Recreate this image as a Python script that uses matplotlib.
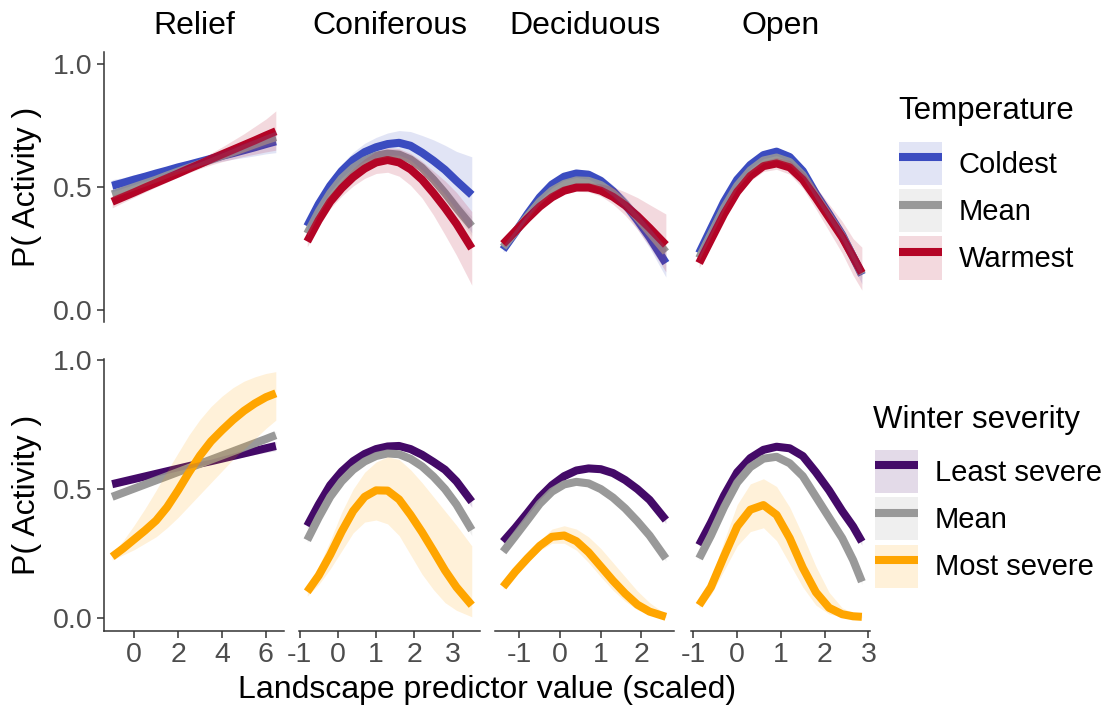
import matplotlib.pyplot as plt
import matplotlib as mpl
from matplotlib.lines import Line2D
from matplotlib.patches import Patch

mpl.rcParams['font.family'] = ['Liberation Sans', 'DejaVu Sans']

W, H = 1112, 711

panels = ["Relief", "Coniferous", "Deciduous", "Open"]

# x values of the prediction grid (scaled predictor)
x_vals = {
    "Relief": [-1.0, -0.5, 0, 0.5, 1, 1.5, 2, 2.5, 3, 3.5, 4, 4.5, 5, 5.5, 6, 6.45],
    "Coniferous": [-0.8, -0.5, -0.2, 0.1, 0.4, 0.7, 1.0, 1.3, 1.6, 1.9, 2.2, 2.5, 2.8, 3.1, 3.5],
    "Deciduous": [-1.4, -1.1, -0.8, -0.5, -0.2, 0.1, 0.4, 0.7, 1.0, 1.3, 1.6, 1.9, 2.2, 2.6],
    "Open": [-0.87, -0.6, -0.3, 0.0, 0.3, 0.6, 0.9, 1.2, 1.5, 1.8, 2.1, 2.4, 2.65, 2.85],
}
x_ticks = {
    "Relief": [0, 2, 4, 6],
    "Coniferous": [-1, 0, 1, 2, 3],
    "Deciduous": [-1, 0, 1, 2],
    "Open": [-1, 0, 1, 2, 3],
}

# ---- Temperature ----
coldest_fit = {
    "Relief": [0.505, 0.517, 0.53, 0.542, 0.555, 0.567, 0.58, 0.591, 0.603, 0.615, 0.627, 0.638, 0.65, 0.662, 0.675, 0.686],
    "Coniferous": [0.34, 0.43, 0.505, 0.565, 0.61, 0.642, 0.662, 0.675, 0.68, 0.668, 0.64, 0.607, 0.57, 0.525, 0.468],
    "Deciduous": [0.245, 0.315, 0.39, 0.458, 0.51, 0.542, 0.555, 0.55, 0.525, 0.483, 0.43, 0.365, 0.295, 0.19],
    "Open": [0.23, 0.33, 0.44, 0.53, 0.59, 0.63, 0.644, 0.622, 0.565, 0.472, 0.39, 0.305, 0.215, 0.142],
}
coldest_lo = {
    "Relief": [0.48, 0.496, 0.51, 0.525, 0.54, 0.553, 0.565, 0.577, 0.588, 0.597, 0.605, 0.613, 0.62, 0.627, 0.635, 0.64],
    "Coniferous": [0.32, 0.408, 0.48, 0.537, 0.578, 0.606, 0.622, 0.63, 0.63, 0.61, 0.57, 0.522, 0.47, 0.405, 0.313],
    "Deciduous": [0.233, 0.303, 0.378, 0.446, 0.497, 0.528, 0.539, 0.532, 0.504, 0.458, 0.4, 0.329, 0.252, 0.133],
    "Open": [0.215, 0.315, 0.425, 0.515, 0.575, 0.615, 0.628, 0.604, 0.545, 0.45, 0.365, 0.275, 0.18, 0.105],
}
coldest_hi = {
    "Relief": [0.53, 0.538, 0.55, 0.559, 0.57, 0.581, 0.595, 0.605, 0.618, 0.633, 0.648, 0.663, 0.68, 0.696, 0.712, 0.728],
    "Coniferous": [0.36, 0.452, 0.53, 0.593, 0.642, 0.678, 0.702, 0.72, 0.73, 0.726, 0.71, 0.692, 0.67, 0.645, 0.623],
    "Deciduous": [0.257, 0.327, 0.402, 0.47, 0.523, 0.556, 0.571, 0.568, 0.546, 0.508, 0.46, 0.401, 0.338, 0.247],
    "Open": [0.245, 0.345, 0.455, 0.545, 0.605, 0.645, 0.66, 0.64, 0.585, 0.494, 0.415, 0.335, 0.25, 0.18],
}
tmean_fit = {
    "Relief": [0.47, 0.485, 0.50, 0.515, 0.53, 0.547, 0.563, 0.579, 0.595, 0.611, 0.627, 0.642, 0.658, 0.674, 0.69, 0.703],
    "Coniferous": [0.31, 0.4, 0.475, 0.535, 0.578, 0.608, 0.628, 0.636, 0.632, 0.612, 0.578, 0.53, 0.475, 0.415, 0.34],
    "Deciduous": [0.255, 0.318, 0.38, 0.44, 0.485, 0.513, 0.527, 0.525, 0.508, 0.475, 0.43, 0.375, 0.315, 0.235],
    "Open": [0.21, 0.307, 0.415, 0.505, 0.568, 0.608, 0.62, 0.602, 0.548, 0.463, 0.382, 0.3, 0.215, 0.145],
}
tmean_lo = {
    "Relief": [0.455, 0.472, 0.488, 0.504, 0.52, 0.538, 0.555, 0.571, 0.587, 0.601, 0.615, 0.627, 0.64, 0.654, 0.667, 0.678],
    "Coniferous": [0.298, 0.389, 0.464, 0.524, 0.567, 0.597, 0.616, 0.623, 0.617, 0.595, 0.558, 0.508, 0.45, 0.385, 0.30],
    "Deciduous": [0.245, 0.308, 0.37, 0.43, 0.475, 0.503, 0.517, 0.515, 0.497, 0.463, 0.417, 0.36, 0.298, 0.212],
    "Open": [0.2, 0.297, 0.405, 0.495, 0.558, 0.598, 0.61, 0.591, 0.536, 0.45, 0.368, 0.285, 0.198, 0.127],
}
tmean_hi = {
    "Relief": [0.485, 0.498, 0.512, 0.526, 0.54, 0.556, 0.571, 0.587, 0.603, 0.621, 0.639, 0.657, 0.676, 0.694, 0.713, 0.728],
    "Coniferous": [0.322, 0.411, 0.486, 0.546, 0.589, 0.619, 0.64, 0.649, 0.647, 0.629, 0.598, 0.552, 0.5, 0.445, 0.38],
    "Deciduous": [0.265, 0.328, 0.39, 0.45, 0.495, 0.523, 0.537, 0.535, 0.519, 0.487, 0.443, 0.39, 0.332, 0.258],
    "Open": [0.22, 0.317, 0.425, 0.515, 0.578, 0.618, 0.63, 0.613, 0.56, 0.476, 0.396, 0.315, 0.232, 0.163],
}
warmest_fit = {
    "Relief": [0.44, 0.459, 0.478, 0.498, 0.517, 0.536, 0.555, 0.575, 0.594, 0.614, 0.633, 0.652, 0.671, 0.69, 0.71, 0.727],
    "Coniferous": [0.278, 0.365, 0.44, 0.495, 0.54, 0.575, 0.6, 0.61, 0.6, 0.572, 0.53, 0.475, 0.415, 0.35, 0.25],
    "Deciduous": [0.268, 0.32, 0.372, 0.42, 0.458, 0.485, 0.498, 0.498, 0.485, 0.46, 0.425, 0.382, 0.333, 0.264],
    "Open": [0.19, 0.285, 0.39, 0.48, 0.545, 0.585, 0.596, 0.58, 0.53, 0.455, 0.375, 0.295, 0.215, 0.15],
}
warmest_lo = {
    "Relief": [0.415, 0.437, 0.458, 0.479, 0.5, 0.52, 0.54, 0.558, 0.575, 0.59, 0.603, 0.614, 0.625, 0.634, 0.643, 0.65],
    "Coniferous": [0.256, 0.34, 0.412, 0.463, 0.504, 0.535, 0.555, 0.56, 0.544, 0.507, 0.455, 0.385, 0.305, 0.222, 0.10],
    "Deciduous": [0.255, 0.307, 0.359, 0.407, 0.445, 0.471, 0.483, 0.48, 0.463, 0.43, 0.385, 0.327, 0.258, 0.154],
    "Open": [0.17, 0.265, 0.37, 0.46, 0.525, 0.563, 0.572, 0.552, 0.495, 0.41, 0.32, 0.23, 0.14, 0.08],
}
warmest_hi = {
    "Relief": [0.465, 0.481, 0.498, 0.516, 0.534, 0.552, 0.57, 0.591, 0.613, 0.638, 0.663, 0.69, 0.717, 0.747, 0.777, 0.81],
    "Coniferous": [0.3, 0.39, 0.468, 0.527, 0.576, 0.615, 0.645, 0.66, 0.656, 0.637, 0.605, 0.565, 0.525, 0.478, 0.40],
    "Deciduous": [0.281, 0.333, 0.385, 0.433, 0.471, 0.499, 0.514, 0.518, 0.513, 0.5, 0.48, 0.457, 0.428, 0.39],
    "Open": [0.21, 0.305, 0.41, 0.5, 0.565, 0.607, 0.62, 0.608, 0.565, 0.5, 0.43, 0.36, 0.29, 0.255],
}

# ---- Winter severity ----
least_fit = {
    "Relief": [0.519, 0.529, 0.539, 0.549, 0.559, 0.569, 0.579, 0.589, 0.599, 0.608, 0.618, 0.628, 0.638, 0.648, 0.658, 0.667],
    "Coniferous": [0.357, 0.44, 0.515, 0.568, 0.608, 0.636, 0.655, 0.665, 0.667, 0.655, 0.633, 0.605, 0.575, 0.53, 0.451],
    "Deciduous": [0.296, 0.35, 0.408, 0.468, 0.515, 0.55, 0.572, 0.58, 0.577, 0.562, 0.535, 0.5, 0.458, 0.38],
    "Open": [0.283, 0.37, 0.475, 0.565, 0.62, 0.652, 0.664, 0.658, 0.628, 0.565, 0.495, 0.415, 0.355, 0.296],
}
least_lo = {
    "Relief": [0.505, 0.517, 0.528, 0.539, 0.55, 0.561, 0.571, 0.581, 0.591, 0.6, 0.608, 0.617, 0.625, 0.634, 0.642, 0.649],
    "Coniferous": [0.347, 0.43, 0.505, 0.558, 0.598, 0.626, 0.645, 0.654, 0.655, 0.642, 0.619, 0.589, 0.557, 0.51, 0.429],
    "Deciduous": [0.288, 0.342, 0.4, 0.46, 0.507, 0.542, 0.564, 0.572, 0.569, 0.554, 0.526, 0.49, 0.447, 0.366],
    "Open": [0.275, 0.362, 0.467, 0.557, 0.612, 0.644, 0.656, 0.65, 0.619, 0.555, 0.484, 0.403, 0.342, 0.282],
}
least_hi = {
    "Relief": [0.533, 0.541, 0.55, 0.559, 0.568, 0.577, 0.587, 0.597, 0.607, 0.616, 0.628, 0.639, 0.651, 0.662, 0.674, 0.685],
    "Coniferous": [0.367, 0.45, 0.525, 0.578, 0.618, 0.646, 0.665, 0.676, 0.679, 0.668, 0.647, 0.621, 0.593, 0.55, 0.473],
    "Deciduous": [0.304, 0.358, 0.416, 0.476, 0.523, 0.558, 0.58, 0.588, 0.585, 0.57, 0.544, 0.51, 0.469, 0.394],
    "Open": [0.291, 0.378, 0.483, 0.573, 0.628, 0.66, 0.672, 0.666, 0.637, 0.575, 0.506, 0.427, 0.368, 0.31],
}
wmean_fit = {
    "Relief": [0.47, 0.486, 0.502, 0.518, 0.534, 0.55, 0.566, 0.582, 0.598, 0.614, 0.63, 0.646, 0.662, 0.678, 0.694, 0.709],
    "Coniferous": [0.302, 0.39, 0.47, 0.53, 0.575, 0.607, 0.628, 0.638, 0.635, 0.617, 0.588, 0.548, 0.5, 0.44, 0.341],
    "Deciduous": [0.257, 0.318, 0.38, 0.443, 0.49, 0.518, 0.528, 0.522, 0.5, 0.467, 0.425, 0.375, 0.32, 0.231],
    "Open": [0.231, 0.32, 0.43, 0.525, 0.585, 0.618, 0.625, 0.6, 0.55, 0.47, 0.39, 0.31, 0.225, 0.141],
}
wmean_lo = {
    "Relief": [0.46, 0.477, 0.494, 0.51, 0.527, 0.543, 0.56, 0.575, 0.591, 0.606, 0.621, 0.636, 0.651, 0.666, 0.681, 0.695],
    "Coniferous": [0.292, 0.38, 0.46, 0.52, 0.565, 0.597, 0.618, 0.627, 0.623, 0.604, 0.574, 0.532, 0.482, 0.42, 0.319],
    "Deciduous": [0.25, 0.311, 0.373, 0.436, 0.483, 0.511, 0.521, 0.515, 0.493, 0.459, 0.416, 0.365, 0.309, 0.22],
    "Open": [0.224, 0.313, 0.423, 0.518, 0.578, 0.611, 0.618, 0.592, 0.541, 0.46, 0.379, 0.299, 0.213, 0.13],
}
wmean_hi = {
    "Relief": [0.48, 0.495, 0.51, 0.526, 0.541, 0.557, 0.572, 0.589, 0.605, 0.622, 0.639, 0.656, 0.673, 0.69, 0.707, 0.723],
    "Coniferous": [0.312, 0.4, 0.48, 0.54, 0.585, 0.617, 0.638, 0.649, 0.647, 0.63, 0.602, 0.564, 0.518, 0.46, 0.363],
    "Deciduous": [0.264, 0.325, 0.387, 0.45, 0.497, 0.525, 0.535, 0.529, 0.507, 0.475, 0.434, 0.385, 0.331, 0.242],
    "Open": [0.238, 0.327, 0.437, 0.532, 0.592, 0.625, 0.632, 0.608, 0.559, 0.48, 0.401, 0.321, 0.237, 0.152],
}
most_fit = {
    "Relief": [0.238, 0.27, 0.305, 0.34, 0.378, 0.43, 0.495, 0.565, 0.63, 0.685, 0.728, 0.768, 0.803, 0.832, 0.856, 0.871],
    "Coniferous": [0.102, 0.165, 0.245, 0.335, 0.415, 0.47, 0.495, 0.494, 0.46, 0.4, 0.333, 0.26, 0.185, 0.12, 0.05],
    "Deciduous": [0.121, 0.18, 0.232, 0.28, 0.315, 0.32, 0.298, 0.255, 0.2, 0.145, 0.095, 0.052, 0.025, 0.005],
    "Open": [0.05, 0.12, 0.24, 0.355, 0.42, 0.438, 0.4, 0.31, 0.195, 0.1, 0.04, 0.015, 0.007, 0.005],
}
most_lo = {
    "Relief": [0.225, 0.245, 0.265, 0.29, 0.315, 0.35, 0.39, 0.435, 0.48, 0.525, 0.57, 0.615, 0.655, 0.695, 0.735, 0.767],
    "Coniferous": [0.085, 0.13, 0.19, 0.26, 0.33, 0.372, 0.38, 0.365, 0.32, 0.245, 0.17, 0.11, 0.06, 0.03, 0.005],
    "Deciduous": [0.11, 0.168, 0.218, 0.262, 0.29, 0.29, 0.263, 0.215, 0.16, 0.108, 0.065, 0.032, 0.013, 0.002],
    "Open": [0.04, 0.09, 0.185, 0.28, 0.335, 0.35, 0.3, 0.21, 0.12, 0.05, 0.016, 0.005, 0.002, 0.001],
}
most_hi = {
    "Relief": [0.25, 0.3, 0.36, 0.425, 0.495, 0.57, 0.64, 0.71, 0.77, 0.82, 0.86, 0.893, 0.918, 0.935, 0.948, 0.955],
    "Coniferous": [0.12, 0.2, 0.3, 0.41, 0.5, 0.565, 0.605, 0.625, 0.615, 0.575, 0.525, 0.47, 0.415, 0.36, 0.28],
    "Deciduous": [0.132, 0.193, 0.248, 0.3, 0.345, 0.358, 0.345, 0.315, 0.27, 0.215, 0.16, 0.105, 0.06, 0.015],
    "Open": [0.06, 0.15, 0.3, 0.44, 0.52, 0.54, 0.51, 0.43, 0.32, 0.2, 0.1, 0.04, 0.02, 0.012],
}

temp_series = [
    ("Coldest", "#3B4CC0", coldest_fit, coldest_lo, coldest_hi),
    ("Mean", "#999999", tmean_fit, tmean_lo, tmean_hi),
    ("Warmest", "#B40426", warmest_fit, warmest_lo, warmest_hi),
]
winter_series = [
    ("Least severe", "#440A68", least_fit, least_lo, least_hi),
    ("Mean", "#999999", wmean_fit, wmean_lo, wmean_hi),
    ("Most severe", "#FFA500", most_fit, most_lo, most_hi),
]

fig = plt.figure(figsize=(W / 100, H / 100), dpi=100)

col_px = [(104, 284), (299, 480), (495, 674), (691, 870)]
row_px = [(52, 322), (359, 631)]
ylims = [(-0.05, 1.05), (-0.05, 1.004)]

LW = 5.8
AX_COL = "#333333"
TICK_COL = "#4D4D4D"


def px_box(x0, x1, y0, y1):
    return [x0 / W, 1 - y1 / H, (x1 - x0) / W, (y1 - y0) / H]


for r, series in enumerate([temp_series, winter_series]):
    for c, name in enumerate(panels):
        ax = fig.add_axes(px_box(*col_px[c], *row_px[r]))
        xs = x_vals[name]
        for lab, col, fit, lo, hi in series:
            ax.plot(xs, fit[name], color=col, lw=LW, solid_capstyle="butt",
                    solid_joinstyle="round", zorder=2)
        for lab, col, fit, lo, hi in series:
            ax.fill_between(xs, lo[name], hi[name], color=col, alpha=0.15,
                            lw=0, zorder=3)
        xmin, xmax = min(xs), max(xs)
        pad = 0.05 * (xmax - xmin)
        ax.set_xlim(xmin - pad, xmax + pad)
        ax.set_ylim(*ylims[r])
        ax.set_yticks([0.0, 0.5, 1.0])
        ax.set_xticks(x_ticks[name])
        for s in ["top", "right"]:
            ax.spines[s].set_visible(False)
        for s in ["left", "bottom"]:
            ax.spines[s].set_color(AX_COL)
            ax.spines[s].set_linewidth(1.1)
        ax.tick_params(colors=AX_COL, labelcolor=TICK_COL, labelsize=20.5,
                       length=5, width=1.1, pad=3)
        if c == 0:
            ax.set_yticklabels(["0.0", "0.5", "1.0"])
        else:
            ax.spines["left"].set_visible(False)
            ax.tick_params(axis="y", left=False, labelleft=False)
        if r == 0:
            ax.spines["bottom"].set_visible(False)
            ax.tick_params(axis="x", bottom=False, labelbottom=False)
            xc = (col_px[c][0] + col_px[c][1]) / 2
            fig.text(xc / W, 1 - 26 / H, name, ha="center", va="center",
                     fontsize=23, color="black")
        else:
            ax.set_xticklabels([str(t) for t in x_ticks[name]])
        ax.patch.set_alpha(0)

# axis titles
for yc in [187, 495]:
    fig.text(27 / W, 1 - yc / H, "P( Activity )", rotation=90, ha="center",
             va="center", fontsize=23, color="black")
fig.text(487 / W, 1 - 690 / H, "Landscape predictor value (scaled)",
         ha="center", va="center", fontsize=23, color="black")


def legend_handles(series):
    hs = []
    for lab, col, fit, lo, hi in series:
        box = Patch(facecolor=col, alpha=0.15, edgecolor="none")
        ln = Line2D([], [], color=col, lw=LW, solid_capstyle="butt")
        hs.append((box, ln))
    return hs


# legends: title drawn as text, keys as a legend without title
for series, title, (tx, ty), (lx, ly) in [
    (temp_series, "Temperature", (898, 111), (899, 142)),
    (winter_series, "Winter severity", (873, 420), (875, 450)),
]:
    fig.text(tx / W, 1 - ty / H, title, ha="left", va="center",
             fontsize=22.5, color="black")
    leg = fig.legend(legend_handles(series), [s[0] for s in series],
                     loc="upper left",
                     bbox_to_anchor=(lx / W, 1 - ly / H), frameon=False,
                     fontsize=21, borderpad=0, borderaxespad=0,
                     handlelength=1.47, handleheight=1.9, handletextpad=0.58,
                     labelspacing=0.14)

fig.savefig("out.png", dpi=100)
